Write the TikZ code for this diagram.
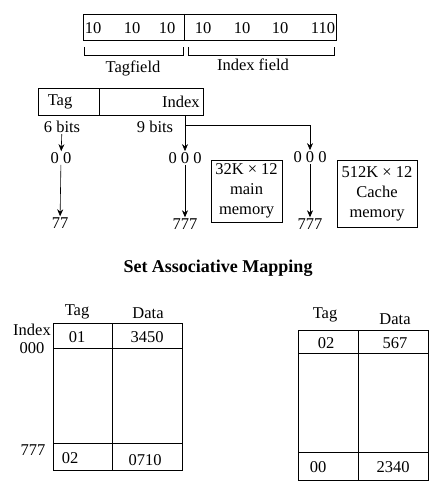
\documentclass[tikz,border=0pt]{standalone}
\usepackage{fontspec}
\setmainfont{Liberation Serif}
\usetikzlibrary{arrows.meta}
\begin{document}
\begin{tikzpicture}[x=1pt,y=-1pt, semithick,
  lbl/.style={inner sep=1pt, font=\fontsize{16.5}{20}\selectfont},
  membox/.style={draw, lbl, align=center, inner sep=0pt},
  arr/.style={-{Stealth[length=7pt,width=6pt]}}]
\useasboundingbox (0,0) rectangle (430,487);
% address fields
\draw (83,14) rectangle (336,40);
\draw (184,14) -- (184,40);
\foreach \x/\v [count=\i] in {93/10,132/10,167/10,203/10,242/10,280/10,323/110}
  \node[lbl] (bit\i) at (\x,28) {\v};
\draw (84,47) -- (84,55) -- (183,55) -- (183,47);
\draw (188,47) -- (188,55) -- (334,55) -- (334,47);
\node[lbl] (tagfield) at (133,68) {Tagfield};
\node[lbl] (indexfield) at (253,65) {Index field};
% tag and index
\draw (38,88) rectangle (203,115);
\draw (99,88) -- (99,115);
\node[lbl] (tag) at (60,102) {Tag};
\node[lbl, anchor=east] (index) at (201,102) {Index};
\node[lbl] (bits6) at (62,127) {6 bits};
\node[lbl] (bits9) at (155,127) {9 bits};
\coordinate (ib) at (185,115);
\coordinate (br) at (185,125);
\node[lbl] (zz) at (61,158) {0 0};
\node[lbl] (zzz) at (185,158) {0 0 0};
\node[lbl] (zzzc) at (310,157) {0 0 0};
\node[lbl] (ss) at (60,223) {77};
\node[lbl] (sss) at (185,224) {777};
\node[lbl] (sssc) at (310,224) {777};
\draw[arr] (bits6) -- (zz);
\draw[arr] (ib) -- (zzz);
\draw[arr] (br) -| (zzzc);
\draw[arr] (zz) -- (ss);
\draw[arr] (zzz) -- (sss);
\draw[arr] (zzzc) -- (sssc);
\node[membox, minimum width=71, minimum height=62] (mainmem) at (246.5,191) {32K × 12\\main\\memory};
\node[membox, minimum width=80, minimum height=67] (cachemem) at (377,193.5) {512K × 12\\Cache\\memory};
\node[lbl, font=\fontsize{18}{22}\selectfont\bfseries] (title) at (218,268) {Set Associative Mapping};
% main memory table
\draw (53,323) rectangle (182,470);
\draw (53,348) -- (182,348);
\draw (53,443) -- (182,443);
\draw (112,323) -- (112,470);
\node[lbl] (mtag) at (77,312) {Tag};
\node[lbl] (mdata) at (148,313) {Data};
\node[lbl] (midx) at (32,330) {Index};
\node[lbl] (mfirst) at (32,348) {000};
\node[lbl] (mlast) at (33,450) {777};
\node[lbl] (mt1) at (77,337) {01};
\node[lbl] (md1) at (147,337) {3450};
\node[lbl] (mt2) at (70,458) {02};
\node[lbl] (md2) at (145,460) {0710};
% cache table
\draw (298,330) rectangle (428,480);
\draw (298,353) -- (428,353);
\draw (298,452) -- (428,452);
\draw (358,330) -- (358,480);
\node[lbl] (ctag) at (325,315) {Tag};
\node[lbl] (cdata) at (395,319) {Data};
\node[lbl] (ct1) at (326,343) {02};
\node[lbl] (cd1) at (395,343) {567};
\node[lbl] (ct2) at (318,467) {00};
\node[lbl] (cd2) at (393,467) {2340};
\end{tikzpicture}
\end{document}
